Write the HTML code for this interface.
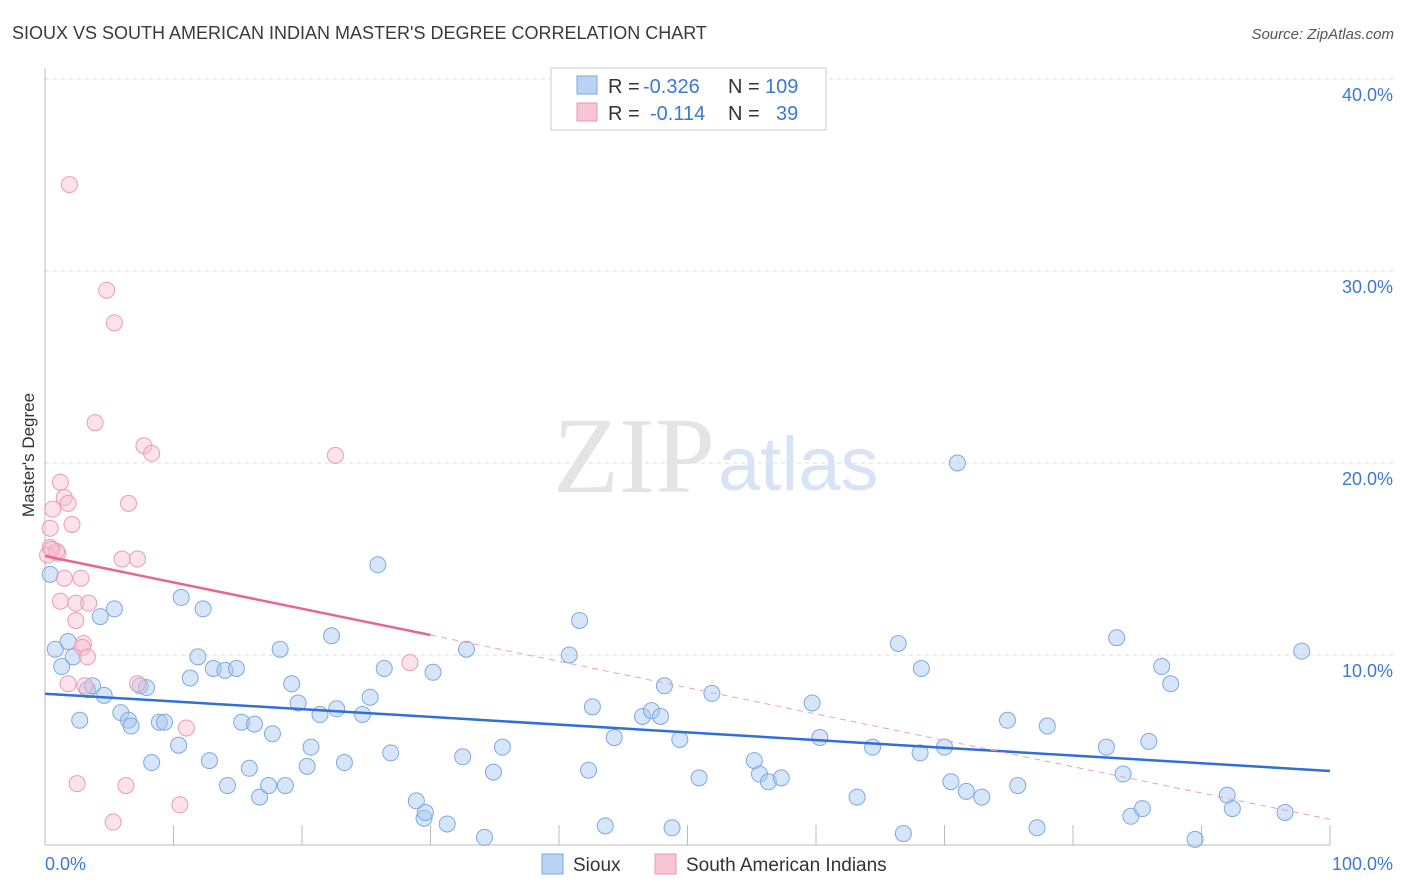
<!DOCTYPE html>
<html><head><meta charset="utf-8">
<style>
body{margin:0;background:#fff;font-family:"Liberation Sans",sans-serif;}
svg{display:block}
</style></head>
<body>
<svg id="chart" width="1406" height="892" xmlns="http://www.w3.org/2000/svg">
<text x="12" y="39" font-size="18" fill="#3a3a3a">SIOUX VS SOUTH AMERICAN INDIAN MASTER'S DEGREE CORRELATION CHART</text>
<text x="1394" y="39" font-size="15" font-style="italic" fill="#555" text-anchor="end">Source: ZipAtlas.com</text>
<text x="34" y="455" font-size="17" fill="#333" text-anchor="middle" transform="rotate(-90 34 455)">Master's Degree</text>
<g id="grid"></g>
<text x="715" y="492" font-size="108" font-family="Liberation Serif,serif" fill="#e4e4e4" text-anchor="end">ZIP</text>
<text x="718" y="490" font-size="76" fill="#d6e4f5">atlas</text>
<g id="marks"></g>
<g>
<rect x="551" y="68" width="275" height="62" fill="#fff" stroke="#ccc"/>
<rect x="577" y="76" width="20" height="18" fill="#b9d3f5" stroke="#7aa8e0"/>
<rect x="577" y="103" width="20" height="18" fill="#f9c6d4" stroke="#eb97b0"/>
<text x="608" y="93" font-size="20" fill="#333">R =</text>
<text x="643" y="93" font-size="20" fill="#3b78d8">-0.326</text>
<text x="728" y="93" font-size="20" fill="#333">N =</text>
<text x="765" y="93" font-size="20" fill="#3b78d8">109</text>
<text x="608" y="120" font-size="20" fill="#333">R =</text>
<text x="650" y="120" font-size="20" fill="#3b78d8">-0.114</text>
<text x="728" y="120" font-size="20" fill="#333">N =</text>
<text x="776" y="120" font-size="20" fill="#3b78d8">39</text>
</g>
<g>
<rect x="542" y="854" width="21" height="20" fill="#b9d3f5" stroke="#7aa8e0"/>
<text x="573" y="871" font-size="19" fill="#333">Sioux</text>
<rect x="655" y="854" width="21" height="20" fill="#f9c6d4" stroke="#eb97b0"/>
<text x="686" y="871" font-size="19" fill="#333">South American Indians</text>
</g>
</svg>
<script>
const xTicks=[0,10,20,30,40,50,60,70,80,90,100];
const yTicks=[10,20,30,40];
const yTickLabels=["10.0%","20.0%","30.0%","40.0%"];
const siouxX=[0.4,0.8,1.3,1.8,2.2,2.7,3.3,3.7,4.6,5.4,4.3,5.9,6.5,6.7,7.4,7.9,8.3,8.9,9.3,10.4,10.6,11.3,11.9,12.3,12.8,13.1,14.0,14.2,14.9,15.3,15.9,16.3,16.7,17.4,17.7,18.3,18.7,19.2,19.7,20.4,20.7,21.4,22.3,22.7,23.3,24.7,25.3,25.9,26.4,26.9,28.9,29.5,29.6,30.2,31.3,32.5,32.8,34.2,34.9,35.6,40.8,41.6,42.3,42.6,43.6,44.3,46.5,47.2,47.9,48.2,48.8,49.4,50.9,51.9,55.2,55.6,56.3,57.3,59.7,60.3,63.2,64.4,66.4,66.8,68.1,68.2,70.0,70.5,71.0,71.7,72.9,74.9,75.7,77.2,78.0,82.6,83.4,83.9,84.5,85.4,85.9,86.9,87.6,89.5,92.0,92.4,96.5,97.8];
const siouxY=[14.2,10.3,9.4,10.7,9.9,6.6,8.2,8.4,7.9,12.4,12.0,7.0,6.6,6.3,8.4,8.3,4.4,6.5,6.5,5.3,13.0,8.8,9.9,12.4,4.5,9.3,9.2,3.2,9.3,6.5,4.1,6.4,2.6,3.2,5.9,10.3,3.2,8.5,7.5,4.2,5.2,6.9,11.0,7.2,4.4,6.9,7.8,14.7,9.3,4.9,2.4,1.5,1.8,9.1,1.2,4.7,10.3,0.5,3.9,5.2,10.0,11.8,4.0,7.3,1.1,5.7,6.8,7.1,6.8,8.4,1.0,5.6,3.6,8.0,4.5,3.8,3.4,3.6,7.5,5.7,2.6,5.2,10.6,0.7,4.9,9.3,5.2,3.4,20.0,2.9,2.6,6.6,3.2,1.0,6.3,5.2,10.9,3.8,1.6,2.0,5.5,9.4,8.5,0.4,2.7,2.0,1.8,10.2];
const saiX=[1.9,4.8,5.4,3.9,7.7,8.3,22.6,1.2,1.5,1.8,0.6,6.5,2.1,0.4,0.4,1.0,0.2,6.0,7.2,1.5,2.8,1.2,2.4,3.4,2.4,3.0,2.9,3.3,1.8,3.1,7.2,11.0,28.4,2.5,6.3,10.5,5.3,0.9,0.5];
const saiY=[34.5,29.0,27.3,22.1,20.9,20.5,20.4,19.0,18.2,17.9,17.6,17.9,16.8,16.6,15.6,15.3,15.2,15.0,15.0,14.0,14.0,12.8,12.7,12.7,11.8,10.6,10.4,9.9,8.5,8.4,8.5,6.2,9.6,3.3,3.2,2.2,1.3,15.4,15.5];
const xLo=45,xHi=1330,yBase=847,yPer=19.2;
const sx=v=>xLo+(xHi-xLo)*v/100;
const sy=v=>yBase-yPer*v;
const NS="http://www.w3.org/2000/svg";
const grid=document.getElementById('grid');
const marks=document.getElementById('marks');
function mk(tag,attrs,parent){const e=document.createElementNS(NS,tag);for(const k in attrs)e.setAttribute(k,attrs[k]);parent.appendChild(e);return e;}
yTicks.forEach((t,i)=>{
  const l=mk('line',{x1:45,x2:1394,y1:sy(t),y2:sy(t),stroke:'#ddd','stroke-dasharray':'4,4'},grid);
  
  
  const tx=mk('text',{x:1393,y:sy(t)+22,'font-size':18,fill:'#3b78d8','text-anchor':'end'},grid);
  tx.textContent=yTickLabels[i];
  
  
});
const ax=mk('line',{x1:45,x2:1330,y1:845,y2:845,stroke:'#bbb'},grid);


const ay=mk('line',{x1:45,x2:45,y1:68,y2:845,stroke:'#bbb'},grid);


xTicks.forEach(t=>{
  const l=mk('line',{x1:sx(t),x2:sx(t),y1:825,y2:845,stroke:'#bbb'},grid);
  
  
});
const xl0=mk('text',{x:45,y:870,'font-size':18,fill:'#3b78d8'},grid);xl0.textContent='0.0%';


const xl1=mk('text',{x:1393,y:870,'font-size':18,fill:'#3b78d8','text-anchor':'end'},grid);xl1.textContent='100.0%';


siouxX.forEach((v,i)=>{
  const c=mk('circle',{cx:sx(v),cy:sy(siouxY[i]),r:8,fill:'rgba(165,198,240,0.45)',stroke:'#7ea9e1','stroke-width':1},marks);
  
  
});
saiX.forEach((v,i)=>{
  const c=mk('circle',{cx:sx(v),cy:sy(saiY[i]),r:8,fill:'rgba(248,190,208,0.45)',stroke:'#ec9bb3','stroke-width':1},marks);
  
  
});
function fit(xs,ys){const n=xs.length;let mx=0,my=0;xs.forEach((x,i)=>{mx+=x;my+=ys[i];});mx/=n;my/=n;let a=0,b=0;xs.forEach((x,i)=>{a+=(x-mx)*(ys[i]-my);b+=(x-mx)*(x-mx);});const s=a/b;return [s,my-s*mx];}
const [bs,bi]=fit(siouxX,siouxY);
const bl=mk('line',{x1:sx(0),y1:sy(bi),x2:sx(100),y2:sy(bi+bs*100),stroke:'#2f6fd6','stroke-width':2.5},marks);


const [ps,pi]=fit(saiX,saiY);
const pl=mk('line',{x1:sx(0),y1:sy(pi),x2:sx(30),y2:sy(pi+ps*30),stroke:'#e8668e','stroke-width':2.5},marks);


const pd=mk('line',{x1:sx(30),y1:sy(pi+ps*30),x2:sx(100),y2:sy(pi+ps*100),stroke:'#e8a0b8','stroke-width':1,'stroke-dasharray':'6,5'},marks);


</script>
</body></html>
